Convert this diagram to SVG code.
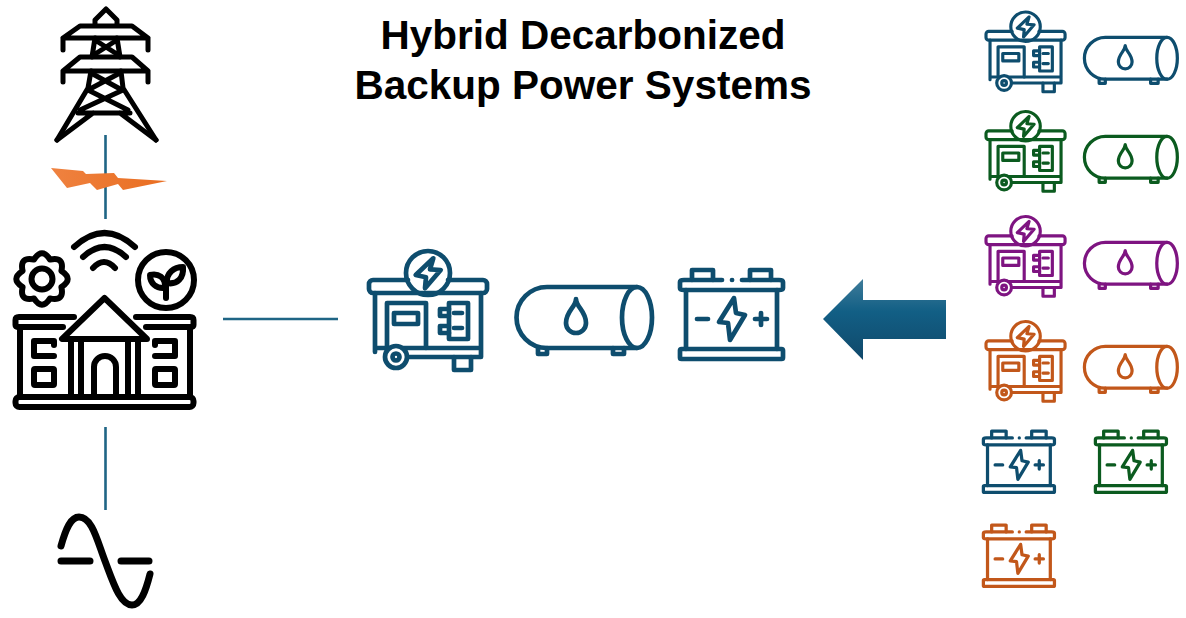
<svg xmlns="http://www.w3.org/2000/svg" xmlns:xlink="http://www.w3.org/1999/xlink" width="1186" height="618" viewBox="0 0 1186 618">
<style>
.t{font-family:"Liberation Sans",Arial,sans-serif;font-weight:700;font-size:40.500px;fill:#000;text-anchor:middle}
.i{fill:none;stroke:currentColor;stroke-width:4.700;stroke-linejoin:round;stroke-linecap:round}
.k{fill:none;stroke:#000;stroke-width:6;stroke-linejoin:round;stroke-linecap:round}
.c{fill:none;stroke:#1F6585;stroke-width:2.600}
.navy{color:#0E4D6E}.green{color:#0B5B1F}.purple{color:#7E1481}.orange{color:#C2571A}
</style>
<defs>
<linearGradient id="ag" x1="0" y1="0" x2="0" y2="1"><stop offset="0" stop-color="#3F7C9A"/><stop offset=".4" stop-color="#125F85"/><stop offset="1" stop-color="#10486A"/></linearGradient>
<linearGradient id="bg" x1="0" y1="0" x2="1" y2="0"><stop offset="0" stop-color="#EF8240"/><stop offset="1" stop-color="#E96D20"/></linearGradient>
<g id="gen" class="i">
<path d="M42 32H7a4 4 0 0 0-4 4v5a4 4 0 0 0 4 4H117a4 4 0 0 0 4-4v-5a4 4 0 0 0-4-4H82"/>
<circle cx="62" cy="25" r="22"/>
<path d="M67.300 10.300L49.700 27L60 29.300L59 40.300L74.700 22L64 21.300Z"/>
<path d="M9 45V104M115 45V109H41M9 100H115"/>
<path d="M21 100V55H60V100"/>
<rect x="28" y="65" width="24" height="11"/>
<rect x="83" y="55" width="19" height="36"/>
<path d="M83 61H74V68H83M83 78H74V85H83M88 65H96M88 80H96"/>
<circle cx="30" cy="109" r="11" fill="#fff"/><circle cx="30" cy="109" r="3.500"/>
<path d="M88 109V122H105V109"/>
</g>
<g id="tank" class="i">
<path d="M124 2H34A30.500 30.500 0 0 0 34 63H124"/>
<ellipse cx="124" cy="32.500" rx="15" ry="30.500"/>
<path d="M25 63V69H34V63M100 63V69H111V63"/>
<path d="M63 14C63 22 53 26 53 38A10 10 0 0 0 73 38C73 26 63 22 63 14Z"/>
</g>
<g id="bat" class="i">
<path d="M14 13V3H35V13M72 13V3H93V13"/>
<path d="M44 13H6Q2 13 2 15V21Q2 23 6 23H101Q105 23 105 21V15Q105 13 101 13H64M54 13H54.100"/>
<path d="M8 23V82M99 23V82"/>
<rect x="2" y="82" width="103" height="10" rx="1.500"/>
<path d="M56 31L41 55L50 56L52 73L67 48L58 46Z"/>
<path d="M19 52H30M77 52H89M83 46V58"/>
</g>
</defs>

<g id="connectors">
<path class="c" d="M105.500 135V219"/>
<path class="c" d="M105.500 427V510"/>
<path class="c" d="M223 319H338"/>
</g>

<g id="title">
<text class="t" x="583" y="49">Hybrid Decarbonized</text>
<text class="t" x="583" y="99">Backup Power Systems</text>
</g>

<g id="tower" class="k" style="stroke-width:5">
<path d="M95 25V20L106 9L117 20V25"/>
<path d="M63 50V38H148V50M63 38L80 26H132L148 38"/>
<path d="M63 82V71H148V82M63 71L80 57H132L148 71"/>
<path d="M95 38L92 57M117 38L120 57M95 40L120 56M117 40L92 56"/>
<path d="M91 71L88 88L57 140M121 71L123 88L156 140"/>
<path d="M91 73L122 90M120 73L88 90M88 90L128 110M123 90L80 110M78 113H130M57 140L93 113M156 140L120 113"/>
</g>

<path id="lightning" fill="url(#bg)" d="M51 168L83 171L86 174L114 173L118 178L167 181L123 190L118 184L97 190L90 183L67 188Z"/>

<g id="building" class="k">
<path d="M74 317H19Q15.500 317 15.500 320V325Q15.500 327 19 327H63"/>
<path d="M136 317H190Q193.500 317 193.500 320V325Q193.500 327 190 327H146"/>
<path d="M104.500 298L62 339H147Z"/>
<path d="M71 339V397M81 339V397M128 339V397M138 339V397"/>
<path d="M94 397V367A11 11 0 0 1 116 367V397"/>
<path d="M20 327V397M190 327V397"/>
<path d="M54 345V341H34V356H54"/>
<rect x="34" y="369" width="20" height="16" rx="1"/>
<path d="M155 345V341H175V356H155"/>
<rect x="155" y="369" width="20" height="16" rx="1"/>
<rect x="15.500" y="397" width="178" height="10" rx="4"/>
<path transform="translate(42 279)" d="M19.400-8.040Q32 0 19.400 8.040Q22.600 22.600 8.040 19.400Q0 32-8.040 19.400Q-22.600 22.600-19.400 8.040Q-32 0-19.400-8.040Q-22.600-22.600-8.040-19.400Q0-32 8.040-19.400Q22.600-22.600 19.400-8.040Z"/>
<circle cx="42" cy="279" r="10.500"/>
<path d="M74 247Q104.500 219 135 247M83 257Q104.500 237 126 257M93 268Q104 256 115 268"/>
<circle cx="166" cy="280" r="28"/>
<path d="M167 283C166 273 174 267 183 267C184 278 177 285 167 283Z"/>
<path d="M165 288C156 289 150 283 150 275C158 273 166 277 165 288Z"/>
<path d="M166 283V298"/>
</g>

<g id="ac" fill="none" stroke="#000" stroke-width="7" stroke-linecap="round">
<path d="M61 546C66 528 71 517 79 517C92 517 97 540 105 561C113 582 120 605 132 605C141 605 146 590 150 574"/>
<path d="M61 561H90M121 561H149"/>
</g>

<g id="center-generator" class="navy"><use href="#gen" transform="translate(366 248)"/></g>
<g id="center-tank" class="navy"><use href="#tank" transform="translate(513 285)"/></g>
<g id="center-battery" class="navy"><use href="#bat" transform="translate(678 267)"/></g>

<path id="flow-arrow" fill="url(#ag)" d="M823 319L863 279V300H946V339H863V360Z"/>

<g id="gen-1" class="navy"><use href="#gen" transform="translate(984 10) scale(.67)"/></g>
<g id="tank-1" class="navy"><use href="#tank" transform="translate(1082 36) scale(.686)"/></g>
<g id="gen-2" class="green"><use href="#gen" transform="translate(984 109.500) scale(.67)"/></g>
<g id="tank-2" class="green"><use href="#tank" transform="translate(1082 135) scale(.686)"/></g>
<g id="gen-3" class="purple"><use href="#gen" transform="translate(984 214.500) scale(.67)"/></g>
<g id="tank-3" class="purple"><use href="#tank" transform="translate(1082 241) scale(.686)"/></g>
<g id="gen-4" class="orange"><use href="#gen" transform="translate(984 319.500) scale(.67)"/></g>
<g id="tank-4" class="orange"><use href="#tank" transform="translate(1082 345) scale(.686)"/></g>
<g id="bat-1" class="navy"><use href="#bat" transform="translate(982 429) scale(.69)"/></g>
<g id="bat-2" class="green"><use href="#bat" transform="translate(1094 429) scale(.69)"/></g>
<g id="bat-3" class="orange"><use href="#bat" transform="translate(982 523) scale(.69)"/></g>
</svg>
